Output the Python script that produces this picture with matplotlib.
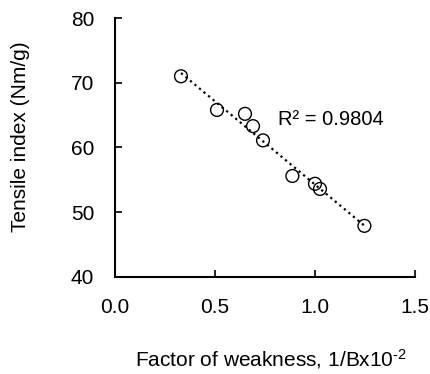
import numpy as np
import matplotlib
matplotlib.use('Agg')
import matplotlib.pyplot as plt

plt.rcParams['font.family'] = ['Liberation Sans', 'DejaVu Sans']
plt.rcParams['mathtext.fontset'] = 'custom'
plt.rcParams['mathtext.rm'] = 'Liberation Sans'
plt.rcParams['mathtext.it'] = 'Liberation Sans'

# data
weakness = [0.33, 0.51, 0.65, 0.69, 0.74, 0.887, 1.0, 1.025, 1.247]
tensile = [71.0, 65.8, 65.2, 63.3, 61.1, 55.6, 54.4, 53.6, 47.9]
x_ticks = [0.0, 0.5, 1.0, 1.5]
y_ticks = [40, 50, 60, 70, 80]

x = np.array(weakness)
y = np.array(tensile)
slope, intercept = np.polyfit(x, y, 1)

fig = plt.figure(figsize=(4.3, 3.74), dpi=100)
ax = fig.add_axes([115 / 430, 1 - 277 / 374, 300 / 430, 259 / 374])

xs = np.array([x.min(), x.max()])
ax.plot(xs, slope * xs + intercept, ls=':', c='black', lw=1.6, zorder=2)
ax.scatter(x, y, s=85, facecolors='none', edgecolors='black', linewidths=1.0, zorder=3)
ax.text(0.815, 64.35, 'R² = 0.9804', fontsize=14.5, va='center', ha='left')

ax.set_xlim(0, 1.5)
ax.set_ylim(40, 80)
ax.set_xticks(x_ticks)
ax.set_xticklabels(['%.1f' % t for t in x_ticks])
ax.set_yticks(y_ticks)
ax.spines['top'].set_visible(False)
ax.spines['right'].set_visible(False)
ax.spines['left'].set_linewidth(1.5)
ax.spines['bottom'].set_linewidth(1.5)
ax.tick_params(direction='in', length=5, width=1.2, labelsize=15)
ax.tick_params(axis='y', pad=15)
ax.tick_params(axis='x', pad=15)

ax.set_ylabel('Tensile index (Nm/g)', fontsize=15)
ax.yaxis.set_label_coords(-85 / 300, 0.54)
ax.set_xlabel(r'Factor of weakness, 1/Bx10$^{\text{-}2}$', fontsize=15)
ax.xaxis.set_label_coords(0.52, -70 / 259)

plt.savefig('out.png', dpi=100)
